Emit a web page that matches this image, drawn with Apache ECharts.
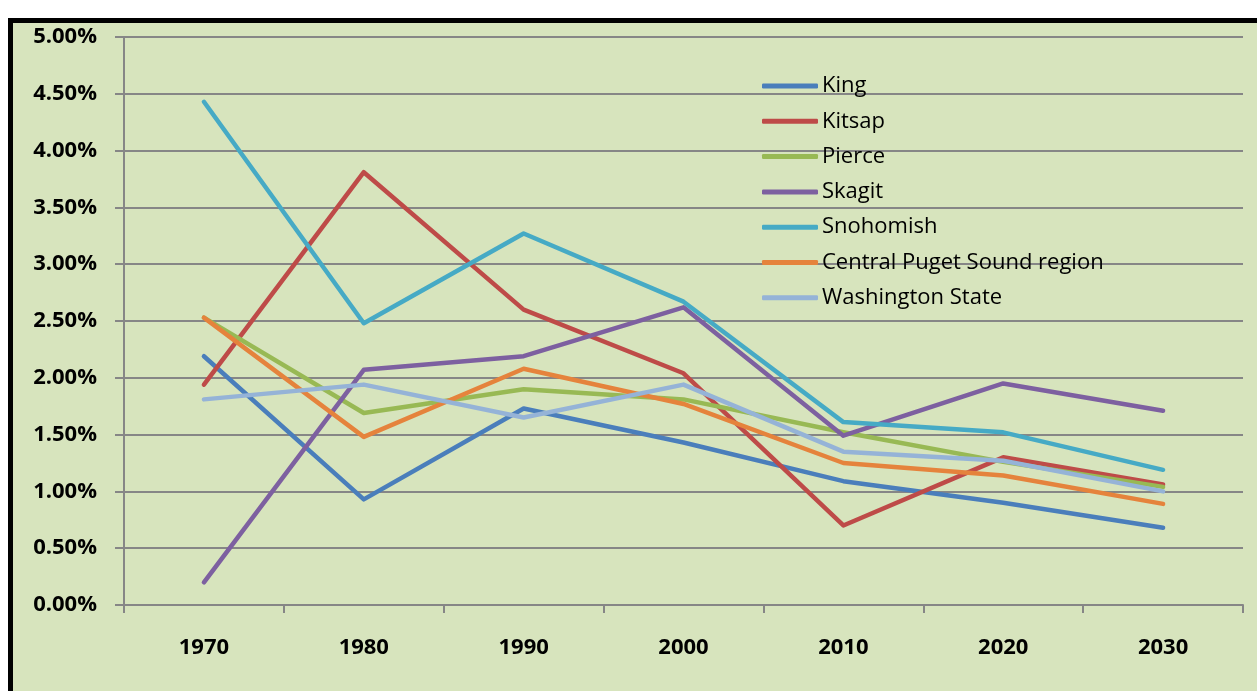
<!DOCTYPE html>
<html>
<head>
<meta charset="utf-8">
<script src="https://cdn.jsdelivr.net/npm/echarts@6/dist/echarts.min.js"></script>
<style>
  html, body { margin: 0; padding: 0; background: #ffffff; }
  #frame {
    position: absolute; left: 8px; top: 18px; width: 1249px; height: 673px;
    box-sizing: border-box; border-left: 5px solid #000; border-top: 5px solid #000;
    background: #D7E4BD;
  }
  #main { position: absolute; left: 0; top: 0; width: 1257px; height: 691px; }
</style>
</head>
<body>
<div id="frame"></div>
<div id="main"></div>
<script>
// years on the x axis
var years = ['1970', '1980', '1990', '2000', '2010', '2020', '2030'];

// average annual growth rate, in percent
var king       = [2.19, 0.93, 1.73, 1.43, 1.09, 0.90, 0.68];
var kitsap     = [1.94, 3.81, 2.60, 2.04, 0.70, 1.30, 1.06];
var pierce     = [2.53, 1.69, 1.90, 1.81, 1.52, 1.26, 1.04];
var skagit     = [0.20, 2.07, 2.19, 2.62, 1.49, 1.95, 1.71];
var snohomish  = [4.43, 2.48, 3.27, 2.67, 1.61, 1.52, 1.19];
var centralPS  = [2.53, 1.48, 2.08, 1.77, 1.25, 1.14, 0.89];
var washington = [1.81, 1.94, 1.65, 1.94, 1.35, 1.27, 1.00];

var seriesNames = ['King', 'Kitsap', 'Pierce', 'Skagit', 'Snohomish',
                   'Central Puget Sound region', 'Washington State'];
var seriesData = [king, kitsap, pierce, skagit, snohomish, centralPS, washington];
var colors = ['#4A7EBB', '#BE4B48', '#98B954', '#7D60A0', '#46AAC5', '#E5833C', '#95B3D7'];

var chart = echarts.init(document.getElementById('main'));

var series = [];
for (var i = 0; i < seriesNames.length; i++) {
  series.push({
    name: seriesNames[i],
    type: 'line',
    data: seriesData[i],
    symbol: 'none',
    lineStyle: { width: 4.5, cap: 'round', join: 'round' }
  });
}

var option = {
  animation: false,
  color: colors,
  grid: { left: 124, right: 14, top: 37, bottom: 86 },
  legend: {
    orient: 'vertical',
    left: 762,
    top: 74,
    padding: 0,
    icon: 'roundRect',
    itemWidth: 56,
    itemHeight: 5,
    itemGap: 11.3,
    textStyle: {
      fontFamily: 'Open Sans',
      fontSize: 22,
      lineHeight: 24,
      color: '#000',
      padding: [0, 0, 0, -1]
    }
  },
  xAxis: {
    type: 'category',
    data: years,
    boundaryGap: true,
    axisLine: { lineStyle: { color: '#868686', width: 2 } },
    axisTick: { show: true, length: 8, interval: 0, lineStyle: { color: '#868686', width: 2 } },
    axisLabel: {
      margin: 32,
      fontFamily: 'Open Sans',
      fontWeight: 'bold',
      fontSize: 22,
      color: '#000'
    }
  },
  yAxis: {
    type: 'value',
    min: 0,
    max: 5,
    interval: 0.5,
    axisLine: { show: true, lineStyle: { color: '#868686', width: 2 } },
    axisTick: { show: true, length: 9, lineStyle: { color: '#868686', width: 2 } },
    splitLine: { lineStyle: { color: '#868686', width: 2 } },
    axisLabel: {
      margin: 27,
      fontFamily: 'Open Sans',
      fontWeight: 'bold',
      fontSize: 22,
      color: '#000',
      formatter: function (v) { return v.toFixed(2) + '%'; }
    }
  },
  series: series
};

chart.setOption(option);
</script>
</body>
</html>
